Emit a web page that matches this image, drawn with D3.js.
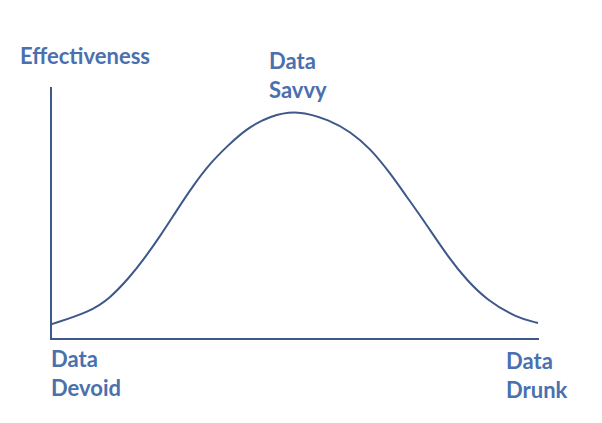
<!DOCTYPE html>
<html>
<head>
<meta charset="utf-8">
<script src="https://cdn.jsdelivr.net/npm/d3@7"></script>
<style>
  body { margin: 0; background: #fff; }
  .lbl { font-family: Lato, "Open Sans", sans-serif; font-weight: bold; fill: #4a70ae; }
</style>
</head>
<body>
<div id="chart"></div>
<script>
// position along the data axis (0 = devoid, 100 = drunk)
var dataAmount = [0, 8, 12.1, 16.2, 18.9, 22.3, 25.8, 29.2, 32.6, 36, 40.1, 44.9, 50.4, 57.2, 61.3, 65.4, 69.5, 72.9, 76.3, 81.8, 85.2, 89.3, 95.5, 99.8];
// effectiveness
var effectiveness = [6.4, 11.9, 17.8, 27.2, 34.5, 44.7, 56.3, 67.2, 76.7, 84, 92, 97.4, 100, 95.6, 90.5, 83.3, 72.4, 62.1, 52, 34.5, 25.8, 17, 9.2, 7];

var labels = [
  { lines: ["Effectiveness"], x: 20, y: 64 },
  { lines: ["Data", "Savvy"], x: 269, y: 69 },
  { lines: ["Data", "Devoid"], x: 51, y: 367 },
  { lines: ["Data", "Drunk"], x: 506, y: 369 }
];

var width = 602, height = 423;
var svg = d3.select("#chart").append("svg")
  .attr("width", width)
  .attr("height", height);

var x = d3.scaleLinear().domain([0, 100]).range([51, 539]);
var y = d3.scaleLinear().domain([0, 100]).range([339, 110]);

var axisColor = "#3d5889";

// axes: plain lines, no ticks
svg.append("line")
  .attr("x1", x(0)).attr("x2", x(0))
  .attr("y1", 87).attr("y2", y(0))
  .attr("stroke", axisColor).attr("stroke-width", 2);
svg.append("line")
  .attr("x1", x(0) - 1).attr("x2", x(100))
  .attr("y1", y(0)).attr("y2", y(0))
  .attr("stroke", axisColor).attr("stroke-width", 2);

var pts = dataAmount.map(function(d, i) { return [d, effectiveness[i]]; });
var line = d3.line()
  .x(function(d) { return x(d[0]); })
  .y(function(d) { return y(d[1]); })
  .curve(d3.curveBasis);

svg.append("path")
  .datum(pts)
  .attr("d", line)
  .attr("fill", "none")
  .attr("stroke", axisColor)
  .attr("stroke-width", 2);

labels.forEach(function(l) {
  var t = svg.append("text")
    .attr("class", "lbl")
    .attr("x", l.x)
    .attr("y", l.y)
    .style("font-size", "22px");
  l.lines.forEach(function(s, i) {
    t.append("tspan")
      .attr("x", l.x)
      .attr("dy", i === 0 ? 0 : 29)
      .text(s);
  });
});
</script>
</body>
</html>
